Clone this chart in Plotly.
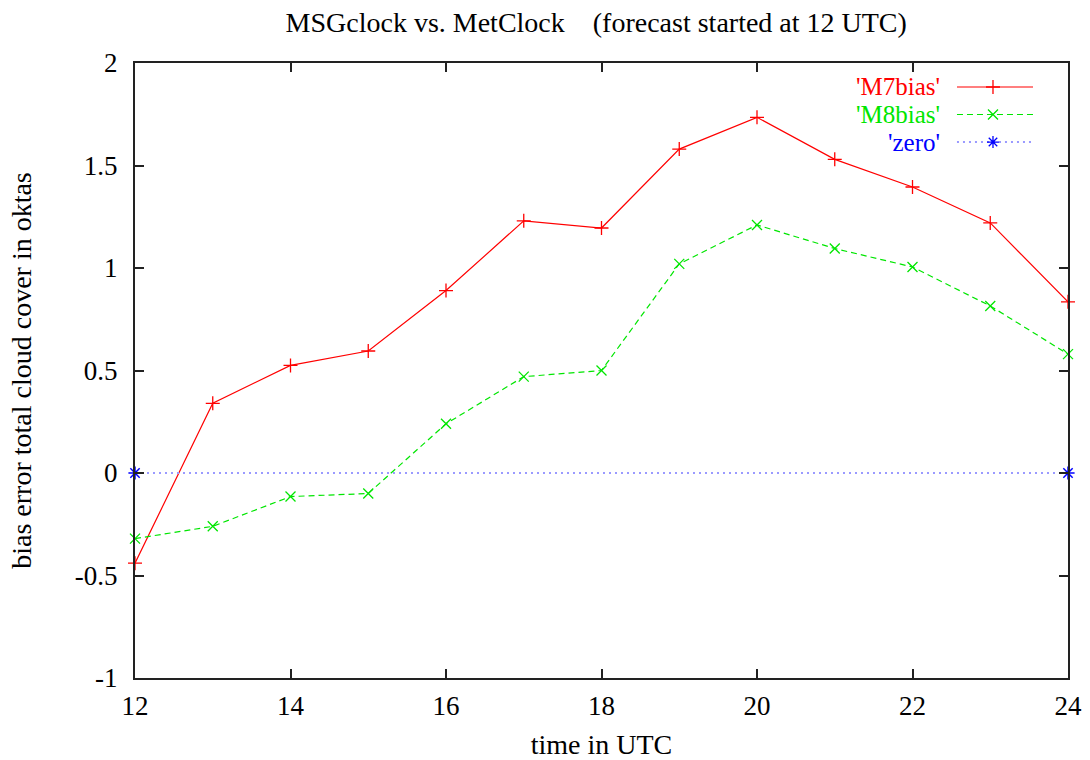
import plotly.graph_objects as go

# forecast hours (UTC) and bias error of total cloud cover (oktas)
hours = [12, 13, 14, 15, 16, 17, 18, 19, 20, 21, 22, 23, 24]
m7_bias = [-0.44, 0.34, 0.525, 0.595, 0.89, 1.23, 1.195, 1.58, 1.735, 1.53, 1.395, 1.22, 0.835]
m8_bias = [-0.32, -0.26, -0.115, -0.10, 0.24, 0.47, 0.50, 1.02, 1.21, 1.095, 1.005, 0.815, 0.58]
zero_hours = [12, 24]
zero_vals = [0, 0]

series_names = ["'M7bias'", "'M8bias'", "'zero'"]
y_tick_vals = [-1, -0.5, 0, 0.5, 1, 1.5, 2]
y_tick_text = ["-1", "-0.5", "0", "0.5", "1", "1.5", "2"]
x_tick_vals = [12, 14, 16, 18, 20, 22, 24]

RED = "#ff0000"
GREEN = "#00e600"
BLUE = "#0000ff"
LIGHT_BLUE = "#9a9aff"
FONT = "Liberation Serif"
FS = 27

fig = go.Figure()

fig.add_trace(go.Scatter(
    x=hours, y=m7_bias, mode="lines+markers", name=series_names[0],
    line=dict(color=RED, width=1.2),
    marker=dict(symbol="cross-thin-open", size=10, color=RED, line=dict(width=1.3, color=RED)),
    showlegend=False, cliponaxis=False,
))
fig.add_trace(go.Scatter(
    x=hours, y=m8_bias, mode="lines+markers", name=series_names[1],
    line=dict(color=GREEN, width=1.2, dash="6px,4px"),
    marker=dict(symbol="x-thin-open", size=10, color=GREEN, line=dict(width=1.3, color=GREEN)),
    showlegend=False, cliponaxis=False,
))
fig.add_trace(go.Scatter(
    x=zero_hours, y=zero_vals, mode="lines", name=series_names[2],
    line=dict(color=LIGHT_BLUE, width=2, dash="2px,4px"),
    showlegend=False, cliponaxis=False,
))
fig.add_trace(go.Scatter(
    x=zero_hours, y=zero_vals, mode="markers", name=series_names[2],
    marker=dict(symbol="asterisk-open", size=11, color=BLUE, line=dict(width=1.5, color=BLUE)),
    showlegend=False, cliponaxis=False,
))

# key drawn in the upper-right corner: name on the left, line sample on the right
key_styles = [
    (dict(color=RED, width=1.2), "cross-thin-open"),
    (dict(color=GREEN, width=1.2, dash="6px,4px"), "x-thin-open"),
    (dict(color=LIGHT_BLUE, width=2, dash="2px,4px"), "asterisk-open"),
]
marker_colors = [RED, GREEN, BLUE]
key_rows = [0.961, 0.9163, 0.8715]
for i, (name, (lstyle, sym), row) in enumerate(zip(series_names, key_styles, key_rows)):
    fig.add_annotation(
        xref="paper", yref="paper", x=0.864, y=row, text=name, showarrow=False,
        xanchor="right", yanchor="middle", borderpad=0,
        font=dict(family=FONT, size=25, color=marker_colors[i]),
    )
    fig.add_trace(go.Scatter(
        x=[0.881, 0.9625], y=[row, row], mode="lines", line=lstyle,
        xaxis="x2", yaxis="y2", showlegend=False, hoverinfo="skip",
    ))
    fig.add_trace(go.Scatter(
        x=[0.9196], y=[row], mode="markers",
        marker=dict(symbol=sym, size=10, color=marker_colors[i],
                    line=dict(width=1.3, color=marker_colors[i])),
        xaxis="x2", yaxis="y2", showlegend=False, hoverinfo="skip",
    ))

axis_common = dict(
    showgrid=False, zeroline=False, showline=True, mirror="allticks",
    linecolor="#222222", linewidth=2, ticks="inside", ticklen=9,
    tickwidth=1.5, tickcolor="#222222", automargin=False,
    tickfont=dict(family=FONT, size=FS, color="black"),
)

fig.update_layout(
    width=1090, height=760,
    paper_bgcolor="white", plot_bgcolor="white",
    margin=dict(l=135, r=22, t=63, b=82),
    title=dict(
        text="MSGclock vs. MetClock\u00a0\u00a0\u00a0\u00a0(forecast started at 12 UTC)",
        x=0.547, xanchor="center", y=0.971, yanchor="middle",
        font=dict(family=FONT, size=28, color="black"),
    ),
    xaxis=dict(
        range=[12, 24], tickvals=x_tick_vals, ticklabelstandoff=3,
        title=dict(text="time in UTC", font=dict(family=FONT, size=28, color="black"), standoff=14),
        **axis_common,
    ),
    yaxis=dict(
        range=[-1, 2], tickvals=y_tick_vals, ticktext=y_tick_text, ticklabelstandoff=10,
        title=dict(text="bias error total cloud cover in oktas",
                   font=dict(family=FONT, size=28, color="black"), standoff=35),
        **axis_common,
    ),
    xaxis2=dict(range=[0, 1], overlaying="x", visible=False, fixedrange=True),
    yaxis2=dict(range=[0, 1], overlaying="y", visible=False, fixedrange=True),
    showlegend=False,
)

fig.write_html("out.html")
